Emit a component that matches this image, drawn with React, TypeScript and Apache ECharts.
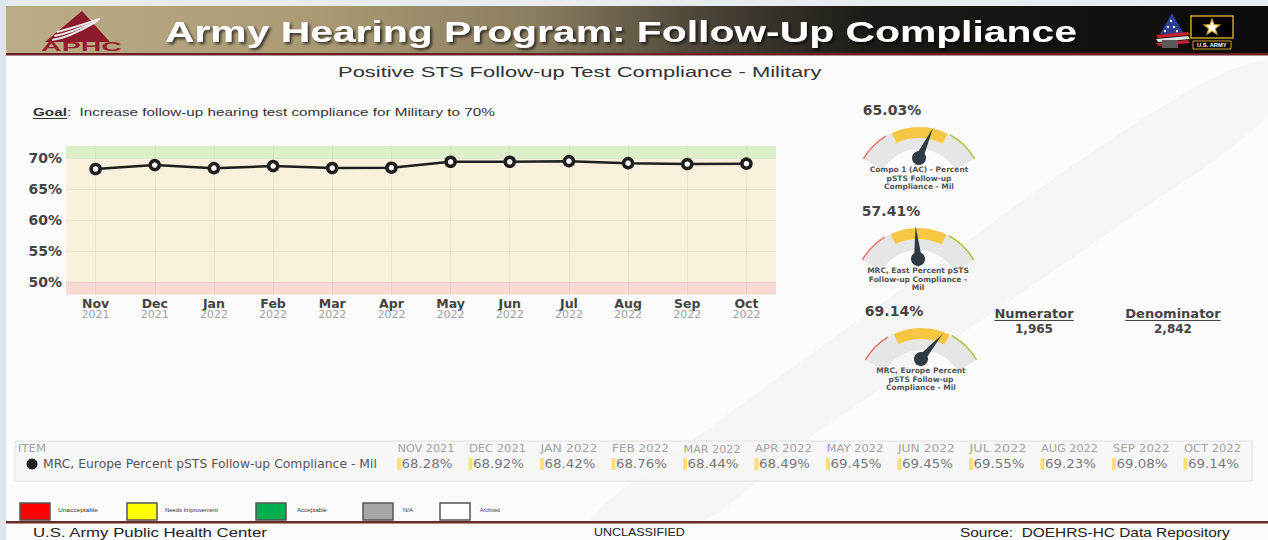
import React, { useEffect, useRef } from "react";
import * as echarts from "echarts";

// ---------------- data ----------------
const months = ["Nov", "Dec", "Jan", "Feb", "Mar", "Apr", "May", "Jun", "Jul", "Aug", "Sep", "Oct"];
const years = ["2021", "2021", "2022", "2022", "2022", "2022", "2022", "2022", "2022", "2022", "2022", "2022"];
const compliance = [68.28, 68.92, 68.42, 68.76, 68.44, 68.49, 69.45, 69.45, 69.55, 69.23, 69.08, 69.14];
const yTicks = [50, 55, 60, 65, 70];
const yMin = 48;
const yMax = 72;
const bandLimits = [48, 50, 70, 72];
const seriesName = "MRC, Europe Percent pSTS Follow-up Compliance - Mil";

const gaugeNames = [
  "Compo 1 (AC) - Percent\npSTS Follow-up\nCompliance - Mil",
  "MRC, East Percent pSTS\nFollow-up Compliance -\nMil",
  "MRC, Europe Percent\npSTS Follow-up\nCompliance - Mil",
];
const gaugeValues = [65.03, 57.41, 69.14];
const gaugeMin = 35;
const gaugeMax = 82;

const numerator = 1965;
const denominator = 2842;

const legendNames = ["Unacceptable", "Needs Improvement", "Acceptable", "N/A", "Archived"];
const legendColors = ["#ff0000", "#ffff00", "#00b050", "#a6a6a6", "#ffffff"];

// ---------------- helpers ----------------
const SANS = '"Liberation Sans", Arial, sans-serif';
const DJV = '"DejaVu Sans", sans-serif';

let measureCtx: CanvasRenderingContext2D | null = null;
function measure(text: string, size: number, family: string, weight: string = "normal") {
  if (!measureCtx) measureCtx = document.createElement("canvas").getContext("2d");
  measureCtx!.font = `${weight} ${size}px ${family}`;
  return measureCtx!.measureText(text).width;
}

function fitText(text: string, left: number, cy: number, width: number, st: any) {
  const w = measure(text, st.fontSize, st.fontFamily, st.fontWeight || "normal");
  return {
    type: "text",
    x: left,
    y: cy,
    scaleX: width / w,
    silent: true,
    style: { text, align: "left", verticalAlign: "middle", ...st },
  };
}
function fitCenter(text: string, cx: number, cy: number, width: number, st: any) {
  return fitText(text, cx - width / 2, cy, width, st);
}

function starPoints(cx: number, cy: number, R: number, r: number) {
  const pts: number[][] = [];
  for (let i = 0; i < 10; i++) {
    const a = -Math.PI / 2 + (i * Math.PI) / 5;
    const rr = i % 2 === 0 ? R : r;
    pts.push([cx + rr * Math.cos(a), cy + rr * Math.sin(a)]);
  }
  return pts;
}

const gaugePivots = [
  [919, 158],
  [918, 259],
  [921, 359],
];

function gaugeSeries(i: number) {
  const [px, py] = gaugePivots[i];
  const base: any = {
    type: "gauge",
    min: gaugeMin,
    max: gaugeMax,
    silent: true,
    splitNumber: 1,
    axisTick: { show: false },
    splitLine: { show: false },
    axisLabel: { show: false },
    pointer: { show: false },
    anchor: { show: false },
    title: { show: false },
    detail: { show: false },
    progress: { show: false },
  };
  const arc = { ...base, center: [px, py + 33], startAngle: 150, endAngle: 30, data: [{ value: gaugeValues[i] }] };
  return [
    { ...arc, radius: 64, axisLine: { lineStyle: { width: 22, color: [[1, "#e6e6e6"]] } } },
    {
      ...arc,
      radius: 64,
      axisLine: {
        lineStyle: { width: 11, color: [[0.29, "rgba(0,0,0,0)"], [0.72, "#f7c744"], [1, "rgba(0,0,0,0)"]] },
      },
    },
    {
      ...arc,
      radius: 65,
      axisLine: {
        lineStyle: { width: 1.6, color: [[0.24, "#e9786d"], [0.74, "rgba(0,0,0,0)"], [1, "#a9c94a"]] },
      },
    },
    {
      ...base,
      center: [px, py],
      radius: 34,
      startAngle: 180,
      endAngle: 0,
      axisLine: { show: false },
      pointer: { show: true, length: 33, width: 4, itemStyle: { color: "#2e3a44" } },
      anchor: { show: true, size: 14, showAbove: true, itemStyle: { color: "#2e3a44" } },
      title: {
        show: true,
        offsetCenter: [0, 20],
        fontSize: 7.5,
        fontWeight: "bold",
        color: "#555",
        lineHeight: 8.5,
        fontFamily: DJV,
      },
      detail: {
        show: true,
        valueAnimation: false,
        offsetCenter: [-27, -48],
        fontSize: 14,
        fontWeight: "bold",
        color: "#444",
        fontFamily: DJV,
        formatter: (v: number) => v.toFixed(2) + "%",
      },
      data: [{ value: gaugeValues[i], name: gaugeNames[i] }],
    },
  ];
}

function buildGraphics() {
  const els: any[] = [];
  // page background
  els.push({ type: "rect", silent: true, shape: { x: 0, y: 0, width: 1268, height: 540 }, style: { fill: "#fbfbfb" } });
  els.push({ type: "rect", silent: true, shape: { x: 0, y: 0, width: 1268, height: 6 }, style: { fill: "#e9ecef" } });
  els.push({ type: "rect", silent: true, shape: { x: 0, y: 0, width: 6, height: 540 }, style: { fill: "#dfe4ea" } });
  // faint swoosh
  els.push({
    type: "polygon",
    silent: true,
    shape: {
      points: [
        [1268, 62], [1268, 115], [1120, 225], [960, 335], [800, 445], [700, 522], [590, 522],
        [720, 420], [900, 290], [1080, 160], [1200, 85],
      ],
      smooth: 0.3,
    },
    style: { fill: "rgba(0,0,0,0.022)" },
  });
  // header
  els.push({
    type: "rect",
    silent: true,
    shape: { x: 6, y: 6, width: 1262, height: 47 },
    style: {
      fill: new echarts.graphic.LinearGradient(0, 0, 1, 0, [
        { offset: 0, color: "#bcad89" },
        { offset: 0.25, color: "#a99a74" },
        { offset: 0.42, color: "#8a7e60" },
        { offset: 0.55, color: "#4c4538" },
        { offset: 0.68, color: "#1d1b17" },
        { offset: 1, color: "#0a0a0a" },
      ]),
    },
  });
  els.push({ type: "rect", silent: true, shape: { x: 6, y: 53, width: 1262, height: 2.5 }, style: { fill: "#6e1f24" } });
  // APHC logo
  els.push({ type: "polygon", silent: true, shape: { points: [[45, 42], [82, 11], [110, 42]] }, style: { fill: "#8c1a2c" } });
  [0, 4, 8].forEach((d) => {
    els.push({
      type: "polyline",
      silent: true,
      shape: { points: [[52 + d * 0.6, 40 - d], [70 + d * 0.6, 35 - d], [96 + d * 0.5, 22 - d * 0.4]], smooth: 0.5 },
      style: { stroke: "#e8e8e8", lineWidth: 2, fill: "none" },
    });
  });
  els.push(fitText("APHC", 41, 47, 81, { fontSize: 13, fontWeight: "bold", fontFamily: SANS, fill: "#9a1c30" }));
  // title
  els.push(
    fitText("Army Hearing Program: Follow-Up Compliance", 165, 32, 912, {
      fontSize: 29,
      fontWeight: "bold",
      fontFamily: SANS,
      fill: "#ffffff",
      textShadowColor: "rgba(0,0,0,0.7)",
      textShadowBlur: 3,
      textShadowOffsetX: 2,
      textShadowOffsetY: 2,
    })
  );
  // right logos: flag
  els.push({ type: "polygon", silent: true, shape: { points: [[1172, 13], [1160, 34], [1184, 34]] }, style: { fill: "#2a3d8f" } });
  [[1168, 27], [1174, 27], [1171, 21], [1165, 31], [1177, 31]].forEach((p) => {
    els.push({ type: "circle", silent: true, shape: { cx: p[0], cy: p[1], r: 1.2 }, style: { fill: "#ffffff" } });
  });
  [35, 39, 43].forEach((y, k) => {
    els.push({
      type: "polygon",
      silent: true,
      shape: { points: [[1156, y], [1188, y - 3], [1190, y], [1158, y + 3]] },
      style: { fill: k === 1 ? "#e0e0e0" : "#c8202f" },
    });
  });
  els.push({ type: "rect", silent: true, shape: { x: 1162, y: 40, width: 16, height: 8 }, style: { fill: "#5a5a5a" } });
  // army star box
  els.push({ type: "rect", silent: true, shape: { x: 1191, y: 16, width: 42, height: 22 }, style: { fill: "#000", stroke: "#c9a227", lineWidth: 1.5 } });
  els.push({ type: "polygon", silent: true, shape: { points: starPoints(1212, 27.5, 10, 4.2) }, style: { fill: "#c9a227" } });
  els.push({ type: "polygon", silent: true, shape: { points: starPoints(1212, 27.5, 6.5, 2.7) }, style: { fill: "#ffffff" } });
  els.push({ type: "rect", silent: true, shape: { x: 1193, y: 41, width: 38, height: 8 }, style: { fill: "#000", stroke: "#c9a227", lineWidth: 1 } });
  els.push(fitCenter("U.S. ARMY", 1212, 45, 30, { fontSize: 6, fontWeight: "bold", fontFamily: SANS, fill: "#ffffff" }));

  // subtitle
  els.push(
    fitText("Positive STS Follow-up Test Compliance - Military", 338, 72, 484, { fontSize: 15, fontFamily: SANS, fill: "#333" })
  );
  // goal
  const goalSt = { fontSize: 11.5, fontFamily: SANS, fill: "#333" };
  const goalBold = { ...goalSt, fontWeight: "bold" };
  const restText = ":  Increase follow-up hearing test compliance for Military to 70%";
  const wGoal = measure("Goal", 11.5, SANS, "bold");
  const wRest = measure(restText, 11.5, SANS, "normal");
  const gs = 462 / (wGoal + wRest);
  els.push({ type: "text", silent: true, x: 33, y: 112, scaleX: gs, style: { text: "Goal", align: "left", verticalAlign: "middle", ...goalBold } });
  els.push({ type: "text", silent: true, x: 33 + wGoal * gs, y: 112, scaleX: gs, style: { text: restText, align: "left", verticalAlign: "middle", ...goalSt } });
  els.push({ type: "line", silent: true, shape: { x1: 33, y1: 118.5, x2: 33 + wGoal * gs, y2: 118.5 }, style: { stroke: "#333", lineWidth: 1 } });

  // numerator / denominator
  const nd = [
    ["Numerator", numerator, 1034],
    ["Denominator", denominator, 1173],
  ];
  nd.forEach(([label, val, cx]: any) => {
    const w = measure(label, 13, DJV, "bold");
    els.push({ type: "text", silent: true, x: cx, y: 313, style: { text: label, align: "center", verticalAlign: "middle", fontSize: 13, fontWeight: "bold", fontFamily: DJV, fill: "#444" } });
    els.push({ type: "line", silent: true, shape: { x1: cx - w / 2, y1: 320.5, x2: cx + w / 2, y2: 320.5 }, style: { stroke: "#444", lineWidth: 1.2 } });
    els.push({ type: "text", silent: true, x: cx, y: 329, style: { text: val.toLocaleString("en-US"), align: "center", verticalAlign: "middle", fontSize: 12, fontWeight: "bold", fontFamily: DJV, fill: "#444" } });
  });

  // table
  els.push({ type: "rect", silent: true, shape: { x: 15, y: 441, width: 1237, height: 40 }, style: { fill: "rgba(246,246,246,0.9)", stroke: "#e0e0e0", lineWidth: 1 } });
  els.push(fitText("ITEM", 18, 449, 28, { fontSize: 10, fontFamily: DJV, fill: "#a3a3a3" }));
  els.push({ type: "circle", silent: true, shape: { cx: 32, cy: 464, r: 5.5 }, style: { fill: "#222" } });
  els.push(fitText(seriesName, 43, 464, 334, { fontSize: 12, fontFamily: DJV, fill: "#555" }));
  months.forEach((m, i) => {
    const cx = 426 + i * 71.5;
    els.push(fitCenter(`${m.toUpperCase()} ${years[i]}`, cx, 449, 57, { fontSize: 10, fontFamily: DJV, fill: "#a3a3a3" }));
    els.push({ type: "rect", silent: true, shape: { x: cx - 29, y: 458, width: 4, height: 12 }, style: { fill: "#fbe07a" } });
    els.push(fitCenter(compliance[i].toFixed(2) + "%", cx + 1, 464, 51, { fontSize: 13, fontFamily: DJV, fill: "#777" }));
  });

  // legend
  const boxX = [20, 127, 256, 363, 440];
  const labX = [58, 165, 297, 403, 480];
  const labW = [40, 53, 30, 10, 20];
  legendNames.forEach((n, i) => {
    els.push({ type: "rect", silent: true, shape: { x: boxX[i], y: 503, width: 30, height: 17 }, style: { fill: legendColors[i], stroke: "#555", lineWidth: 1.5 } });
    els.push(fitText(n, labX[i], 510, labW[i], { fontSize: 6, fontFamily: SANS, fill: "#333" }));
  });
  els.push({ type: "rect", silent: true, shape: { x: 6, y: 521, width: 1262, height: 2.5 }, style: { fill: "#6b2a2a" } });

  // footer
  els.push(fitText("U.S. Army Public Health Center", 33, 532, 235, { fontSize: 13, fontFamily: SANS, fill: "#222" }));
  els.push(fitText("UNCLASSIFIED", 594, 532, 91, { fontSize: 10, fontFamily: SANS, fill: "#222" }));
  els.push(fitText("Source:  DOEHRS-HC Data Repository", 960, 532, 270, { fontSize: 13, fontFamily: SANS, fill: "#222" }));
  return els;
}

function buildOption(): any {
  const series: any[] = [
    {
      type: "line",
      data: [],
      z: 1,
      silent: true,
      markArea: {
        silent: true,
        data: [
          [{ yAxis: bandLimits[0], itemStyle: { color: "#f8d9d4" } }, { yAxis: bandLimits[1] }],
          [{ yAxis: bandLimits[1], itemStyle: { color: "#f7f0da" } }, { yAxis: bandLimits[2] }],
          [{ yAxis: bandLimits[2], itemStyle: { color: "#dcefc8" } }, { yAxis: bandLimits[3] }],
        ],
      },
      markLine: {
        silent: true,
        symbol: "none",
        label: { show: false },
        lineStyle: { color: "rgba(0,0,0,0.05)", type: "solid", width: 1 },
        data: [...yTicks.map((v) => ({ yAxis: v })), ...months.map((m) => ({ xAxis: m }))],
      },
    },
    {
      type: "line",
      name: seriesName,
      data: compliance,
      z: 3,
      symbol: "circle",
      symbolSize: 9,
      lineStyle: { color: "#1e1e1e", width: 2.5 },
      itemStyle: { color: "#ffffff", borderColor: "#1e1e1e", borderWidth: 3.5 },
    },
    ...gaugeSeries(0),
    ...gaugeSeries(1),
    ...gaugeSeries(2),
  ];
  return {
    animation: false,
    backgroundColor: "transparent",
    textStyle: { fontFamily: DJV },
    grid: { left: 66, right: 492, top: 146, bottom: 245.6, containLabel: false },
    xAxis: {
      type: "category",
      data: months,
      boundaryGap: true,
      axisLine: { show: false },
      axisTick: { show: false },
      splitLine: { show: false },
      axisLabel: {
        margin: 3,
        interval: 0,
        formatter: (v: string, i: number) => `{m|${v}}\n{y|${years[i]}}`,
        rich: {
          m: { fontSize: 12.5, fontWeight: "bold", color: "#444", fontFamily: DJV, lineHeight: 12 },
          y: { fontSize: 11, color: "#a0a0a0", fontFamily: DJV, lineHeight: 11 },
        },
      },
    },
    yAxis: {
      type: "value",
      min: yMin,
      max: yMax,
      splitLine: { show: false },
      axisLine: { show: false },
      axisTick: { show: false, customValues: yTicks },
      axisLabel: {
        customValues: yTicks,
        formatter: "{value}%",
        margin: 4,
        fontSize: 14,
        fontWeight: "bold",
        color: "#444",
        fontFamily: DJV,
      },
    },
    graphic: { elements: buildGraphics() },
    series,
  };
}

export default function App() {
  const ref = useRef<HTMLDivElement>(null);
  useEffect(() => {
    const el = ref.current!;
    const chart = echarts.init(el, null, { renderer: "svg" });
    chart.setOption(buildOption());
    return () => chart.dispose();
  }, []);
  return <div ref={ref} style={{ position: "absolute", left: 0, top: 0, width: 1268, height: 540 }} />;
}
